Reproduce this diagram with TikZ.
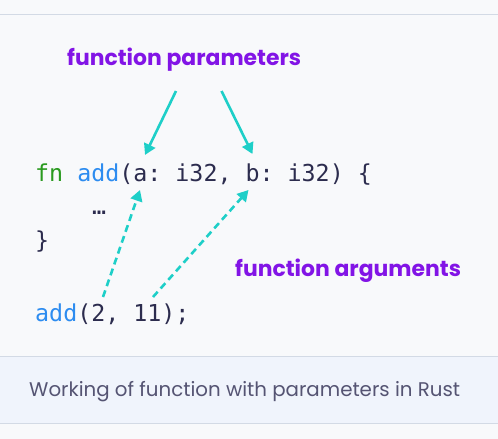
\documentclass[tikz,border=0pt]{standalone}
\usepackage{fontspec}
\setmainfont{Poppins}
\setmonofont{DejaVu Sans Mono}
\usetikzlibrary{arrows.meta}
\definecolor{bgcol}{HTML}{F8F9FB}
\definecolor{bandcol}{HTML}{F0F4FC}
\definecolor{rulecol}{HTML}{D3DAE5}
\definecolor{purp}{HTML}{8214E6}
\definecolor{cyanc}{HTML}{1ECFC8}
\definecolor{codecol}{HTML}{2C2C4E}
\definecolor{fngreen}{HTML}{2A9A1F}
\definecolor{addblue}{HTML}{2D8CF0}
\definecolor{capcol}{HTML}{555473}
\tikzset{
  codetxt/.style={anchor=base west,inner sep=0pt,text=codecol,font=\ttfamily\fontsize{23.3}{28}\selectfont},
  labeltxt/.style={anchor=base west,inner sep=0pt,text=purp,font=\fontsize{21.9}{26}\selectfont\bfseries},
  captxt/.style={anchor=base west,inner sep=0pt,text=capcol,font=\fontsize{19.8}{24}\selectfont},
  solidarrow/.style={draw=cyanc,line width=2.6pt,-{Triangle[length=11pt,width=12pt]}},
  dasharrow/.style={draw=cyanc,line width=2.6pt,dash pattern=on 7pt off 4.5pt,-{Triangle[length=11pt,width=12pt]}},
}
\begin{document}
\begin{tikzpicture}[x=1pt,y=-1pt]
\useasboundingbox (0,0) rectangle (498,439);
\fill[bgcol] (0,0) rectangle (498,439);
\draw[rulecol,line width=1pt] (0,14) -- (498,14);
\fill[bandcol] (0,356) rectangle (498,423);
\draw[rulecol,line width=1pt] (0,356) -- (498,356);
\draw[rulecol,line width=1pt] (0,423) -- (498,423);

\node[labeltxt] (params) at (67,65) {function parameters};
\node[labeltxt] (args) at (235,276) {function arguments};

\node[codetxt] (line1) at (35,181) {{\color{fngreen}fn} {\color{addblue}add}(a: i32, b: i32) \{};
\node[codetxt] (dots) at (92,214) {…};
\node[codetxt] (line3) at (35,248) {\}};
\node[codetxt] (call) at (35,321) {{\color{addblue}add}(2, 11);};

\node[captxt] (cap) at (29,396) {Working of function with parameters in Rust};

\coordinate (p1s) at (176,91);
\coordinate (p1e) at (145,155);
\coordinate (p2s) at (221.5,91);
\coordinate (p2e) at (252.5,154);
\coordinate (a1s) at (103,297);
\coordinate (a1e) at (140,190);
\coordinate (a2s) at (153,297);
\coordinate (a2e) at (248.5,190);

\draw[solidarrow] (p1s) -- (p1e);
\draw[solidarrow] (p2s) -- (p2e);
\draw[dasharrow] (a1s) -- (a1e);
\draw[dasharrow] (a2s) -- (a2e);
\end{tikzpicture}
\end{document}
